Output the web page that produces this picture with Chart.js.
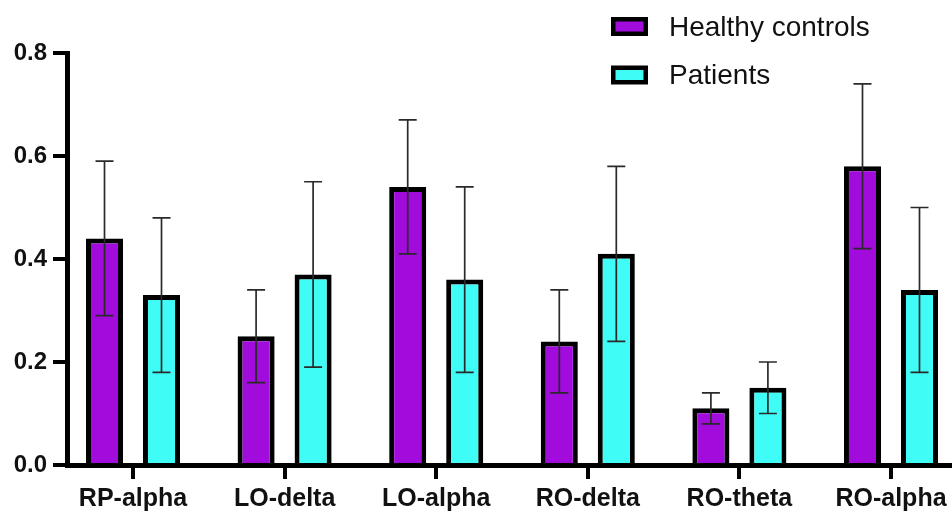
<!DOCTYPE html>
<html>
<head>
<meta charset="utf-8">
<script src="https://cdn.jsdelivr.net/npm/chart.js@4"></script>
<style>
  html, body { margin: 0; padding: 0; background: #fff; overflow: hidden; }
  #wrap { width: 952px; height: 512px; }
</style>
</head>
<body>
<div id="wrap"><canvas id="c" width="952" height="512"></canvas></div>
<script>
const categories = ['RP-alpha', 'LO-delta', 'LO-alpha', 'RO-delta', 'RO-theta', 'RO-alpha'];
const healthy = [0.44, 0.25, 0.54, 0.24, 0.11, 0.58];
const healthyErr = [0.15, 0.09, 0.13, 0.10, 0.03, 0.16];
const patients = [0.33, 0.37, 0.36, 0.41, 0.15, 0.34];
const patientsErr = [0.15, 0.18, 0.18, 0.17, 0.05, 0.16];
const yTicks = [0, 0.2, 0.4, 0.6, 0.8];

const PURPLE = '#A10BDB';
const CYAN = '#3FFCF7';
const FONT = '"Liberation Sans", Arial, Helvetica, sans-serif';

const errorBars = {
  id: 'errorBars',
  afterDatasetsDraw(chart) {
    const ctx = chart.ctx;
    const y = chart.scales.y;
    ctx.save();
    ctx.strokeStyle = '#2a2a2a';
    ctx.lineWidth = 1.7;
    chart.data.datasets.forEach((ds, di) => {
      const meta = chart.getDatasetMeta(di);
      meta.data.forEach((bar, i) => {
        const v = ds.data[i].y, e = ds.err[i];
        const x = bar.x;
        const yt = y.getPixelForValue(v + e);
        const yb = y.getPixelForValue(v - e);
        ctx.beginPath();
        ctx.moveTo(x, yt); ctx.lineTo(x, yb);
        ctx.moveTo(x - 9, yt); ctx.lineTo(x + 9, yt);
        ctx.moveTo(x - 9, yb); ctx.lineTo(x + 9, yb);
        ctx.stroke();
      });
    });
    ctx.restore();
  }
};

const legendBoxes = {
  id: 'legendBoxes',
  afterDraw(chart) {
    const ctx = chart.ctx;
    ctx.save();
    const rows = [28.5, 76];
    const boxTops = [17, 65.5];
    chart.data.datasets.forEach((ds, i) => {
      ctx.fillStyle = '#000';
      ctx.fillRect(611, boxTops[i], 37, 19);
      ctx.fillStyle = ds.backgroundColor;
      ctx.fillRect(615.5, boxTops[i] + 4.5, 28, 10);
      ctx.fillStyle = '#111';
      ctx.font = '28px ' + FONT;
      ctx.textBaseline = 'middle';
      ctx.textAlign = 'left';
      ctx.fillText(ds.label, 669, rows[i]);
    });
    ctx.restore();
  }
};

new Chart(document.getElementById('c'), {
  type: 'bar',
  data: {
    datasets: [
      {
        label: 'Healthy controls',
        data: healthy.map((v, i) => ({ x: i, y: v })),
        err: healthyErr,
        backgroundColor: PURPLE,
        borderColor: '#000',
        borderWidth: 5
      },
      {
        label: 'Patients',
        data: patients.map((v, i) => ({ x: i, y: v })),
        err: patientsErr,
        backgroundColor: CYAN,
        borderColor: '#000',
        borderWidth: 5
      }
    ]
  },
  options: {
    responsive: false,
    animation: false,
    devicePixelRatio: 1,
    categoryPercentage: 0.752,
    barPercentage: 0.65,
    layout: { padding: { top: 53, left: 0, right: 0, bottom: 0 } },
    plugins: { legend: { display: false }, tooltip: { enabled: false } },
    scales: {
      x: {
        type: 'linear',
        offset: false,
        min: -0.4354,
        max: 5.4024,
        afterBuildTicks: (s) => { s.ticks = categories.map((c, i) => ({ value: i })); },
        afterFit: (s) => { s.height = 47; },
        grid: { display: true, offset: false, drawOnChartArea: false, drawTicks: true, tickLength: 14, color: '#000', lineWidth: 4 },
        border: { display: true, color: '#000', width: 5 },
        ticks: {
          autoSkip: false,
          maxRotation: 0,
          padding: 5,
          color: '#111',
          font: { family: FONT, size: 25, weight: 'bold' },
          callback: (v) => categories[Math.round(v)] ?? ''
        }
      },
      y: {
        min: 0,
        max: 0.8,
        afterBuildTicks: (s) => { s.ticks = yTicks.map(v => ({ value: v })); },
        afterFit: (s) => { s.width = 67; },
        grid: { display: true, drawOnChartArea: false, drawTicks: true, tickLength: 14, color: '#000', lineWidth: 4 },
        border: { display: true, color: '#000', width: 5 },
        ticks: {
          padding: 6,
          color: '#111',
          font: { family: FONT, size: 24, weight: 'bold' },
          callback: (v) => Number(v).toFixed(1)
        }
      }
    }
  },
  plugins: [errorBars, legendBoxes]
});
</script>
</body>
</html>
